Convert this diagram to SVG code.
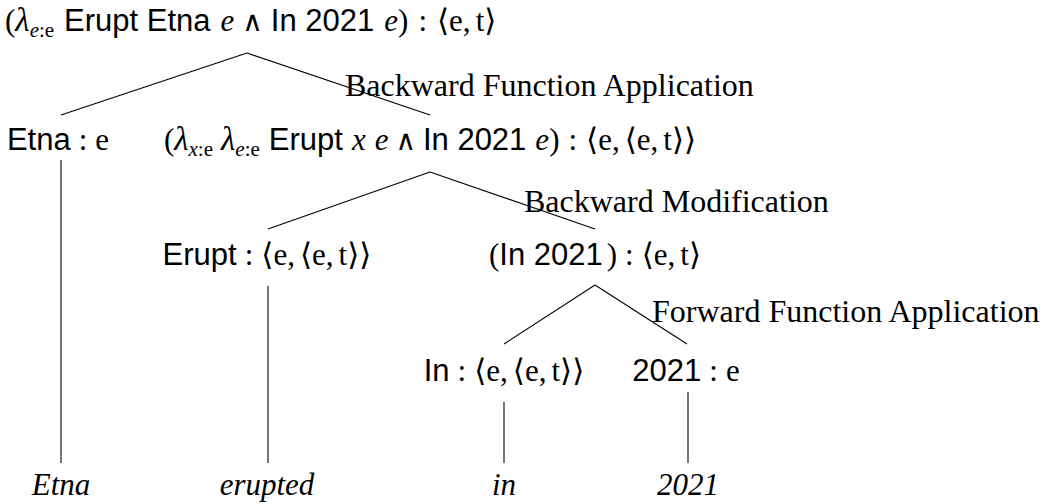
<svg xmlns="http://www.w3.org/2000/svg" width="1047" height="504" viewBox="0 0 1047 504">
  <style>
    text { font-size: 31px; fill: #000; }
    .sf { font-family: "Liberation Sans", Arial, sans-serif; }
    .rm { font-family: "Liberation Serif", "DejaVu Serif", serif; }
    .it { font-family: "Liberation Serif", "DejaVu Serif", serif; font-style: italic; }
    .lam { font-size: 33px; }
    .and { font-family: "DejaVu Sans", sans-serif; font-size: 28px; }
    .sub { font-size: 21px; }
    .lbl { font-size: 32px; }
    .mid { text-anchor: middle; }
    .edge { stroke: #000; stroke-width: 1.1; fill: none; }
  </style>

  <!-- tree edges -->
  <g id="edges">
    <line class="edge" x1="247" y1="53" x2="61" y2="115"/>
    <line class="edge" x1="247" y1="53" x2="430" y2="115"/>
    <line class="edge" x1="61" y1="160" x2="61" y2="463"/>
    <line class="edge" x1="430" y1="172" x2="268" y2="229"/>
    <line class="edge" x1="430" y1="172" x2="595" y2="229"/>
    <line class="edge" x1="268" y1="286" x2="268" y2="463"/>
    <line class="edge" x1="595" y1="285" x2="504" y2="344"/>
    <line class="edge" x1="595" y1="285" x2="687" y2="344"/>
    <line class="edge" x1="504" y1="402" x2="504" y2="463"/>
    <line class="edge" x1="688" y1="392" x2="688" y2="463"/>
  </g>

  <!-- rule names on the right-hand edges -->
  <g id="rules">
    <text class="rm lbl" x="345" y="96">Backward Function Application</text>
    <text class="rm lbl" x="524" y="212">Backward Modification</text>
    <text class="rm lbl" x="652" y="322">Forward Function Application</text>
  </g>

  <g id="root">
    <text x="5" y="31"><tspan class="rm">(</tspan><tspan class="it lam">λ</tspan><tspan class="it sub" dy="6">e</tspan><tspan class="rm sub">:e</tspan><tspan class="sf" dy="-6" dx="10">Erupt Etna</tspan><tspan class="it" dx="10">e</tspan><tspan class="and" dx="8">∧</tspan><tspan class="sf" dx="8">In 2021</tspan><tspan class="it" dx="10">e</tspan><tspan class="rm">)</tspan><tspan class="rm" dx="10">:</tspan><tspan class="rm" dx="10">⟨e,</tspan><tspan class="rm" dx="5">t⟩</tspan></text>
  </g>

  <g id="etna-np">
    <text class="mid" x="58" y="150"><tspan class="sf">Etna</tspan><tspan class="rm" dx="8">:</tspan><tspan class="rm" dx="8">e</tspan></text>
  </g>

  <g id="vp">
    <text class="mid" x="430" y="150"><tspan class="rm">(</tspan><tspan class="it lam">λ</tspan><tspan class="it sub" dy="6">x</tspan><tspan class="rm sub">:e</tspan><tspan class="it lam" dy="-6" dx="8">λ</tspan><tspan class="it sub" dy="6">e</tspan><tspan class="rm sub">:e</tspan><tspan class="sf" dy="-6" dx="9">Erupt</tspan><tspan class="it" dx="9">x</tspan><tspan class="it" dx="9">e</tspan><tspan class="and" dx="7">∧</tspan><tspan class="sf" dx="7">In 2021</tspan><tspan class="it" dx="9">e</tspan><tspan class="rm">)</tspan><tspan class="rm" dx="9">:</tspan><tspan class="rm" dx="9">⟨e,</tspan><tspan class="rm" dx="5">⟨e,</tspan><tspan class="rm" dx="5">t⟩⟩</tspan></text>
  </g>

  <g id="erupt">
    <text class="mid" x="267" y="265"><tspan class="sf">Erupt</tspan><tspan class="rm" dx="8">:</tspan><tspan class="rm" dx="8">⟨e,</tspan><tspan class="rm" dx="5">⟨e,</tspan><tspan class="rm" dx="5">t⟩⟩</tspan></text>
  </g>

  <g id="pp">
    <text class="mid" x="595" y="265"><tspan class="rm">(</tspan><tspan class="sf">In 2021</tspan><tspan class="rm" dx="4">)</tspan><tspan class="rm" dx="8">:</tspan><tspan class="rm" dx="8">⟨e,</tspan><tspan class="rm" dx="5">t⟩</tspan></text>
  </g>

  <g id="in">
    <text class="mid" x="504" y="381"><tspan class="sf">In</tspan><tspan class="rm" dx="8">:</tspan><tspan class="rm" dx="8">⟨e,</tspan><tspan class="rm" dx="5">⟨e,</tspan><tspan class="rm" dx="5">t⟩⟩</tspan></text>
  </g>

  <g id="year">
    <text class="mid" x="686" y="381"><tspan class="sf">2021</tspan><tspan class="rm" dx="8">:</tspan><tspan class="rm" dx="8">e</tspan></text>
  </g>

  <!-- surface words -->
  <g id="leaf-etna"><text class="it mid" x="61" y="495">Etna</text></g>
  <g id="leaf-erupted"><text class="it mid" x="267" y="495">erupted</text></g>
  <g id="leaf-in"><text class="it mid" x="504" y="495">in</text></g>
  <g id="leaf-2021"><text class="it mid" x="688" y="495">2021</text></g>
</svg>
